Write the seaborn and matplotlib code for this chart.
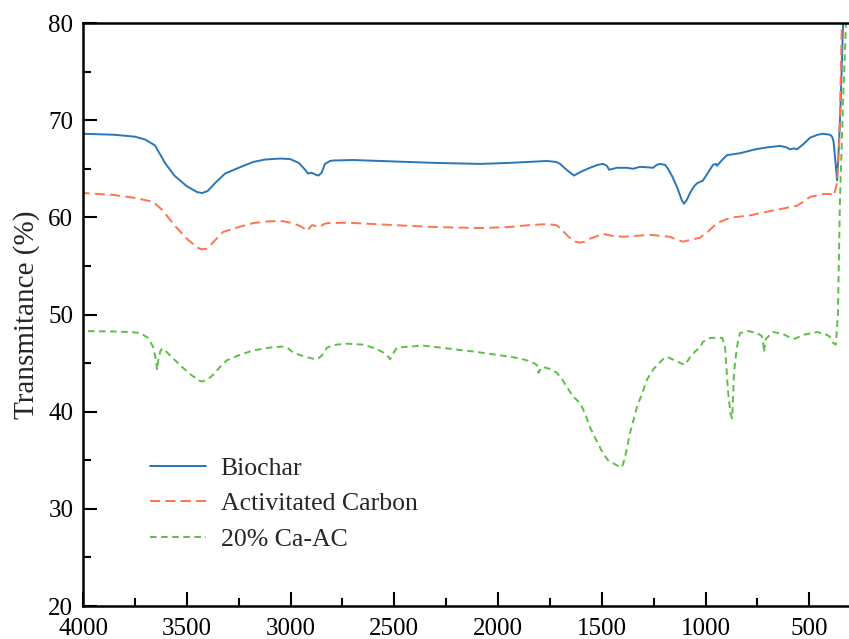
import numpy as np
import matplotlib
matplotlib.use("Agg")
import matplotlib.pyplot as plt
from matplotlib.ticker import MultipleLocator
import seaborn as sns

# ---------------------------------------------------------------------------
# FTIR spectra (wavenumber in cm-1, transmittance in %)
# ---------------------------------------------------------------------------
biochar_wn = [4000, 3850, 3749, 3700, 3653, 3605, 3560, 3500, 3450, 3427, 3400,
              3360, 3316, 3250, 3180, 3123, 3050, 3002, 2960, 2930, 2915, 2900,
              2880, 2865, 2850, 2834, 2810, 2795, 2700, 2500, 2300, 2087, 1950,
              1764, 1720, 1701, 1670, 1634, 1600, 1557, 1520, 1494, 1475, 1465,
              1445, 1427, 1380, 1349, 1316, 1280, 1253, 1235, 1219, 1195, 1181,
              1160, 1137, 1115, 1104, 1090, 1075, 1055, 1041, 1012, 985, 964,
              950, 945, 920, 897, 834, 760, 704, 640, 610, 593, 575, 559, 530,
              496, 460, 434, 400, 390, 383, 375, 366, 358, 350, 337, 325]
biochar_t = [68.6, 68.5, 68.3, 68.0, 67.4, 65.6, 64.3, 63.2, 62.6, 62.5, 62.7,
             63.6, 64.5, 65.1, 65.7, 65.95, 66.05, 66.0, 65.6, 64.9, 64.5, 64.6,
             64.4, 64.3, 64.6, 65.5, 65.8, 65.85, 65.9, 65.75, 65.6, 65.5, 65.6,
             65.8, 65.7, 65.5, 64.9, 64.3, 64.7, 65.1, 65.4, 65.5, 65.3, 64.9,
             65.0, 65.1, 65.1, 65.0, 65.2, 65.15, 65.1, 65.4, 65.5, 65.4, 65.0,
             64.2, 63.1, 61.8, 61.4, 61.8, 62.5, 63.2, 63.5, 63.8, 64.7, 65.4,
             65.5, 65.3, 65.9, 66.4, 66.6, 67.0, 67.2, 67.35, 67.2, 67.0, 67.1,
             67.0, 67.5, 68.2, 68.5, 68.6, 68.5, 68.3, 67.8, 66.0, 63.8, 67.0,
             71.0, 80.0, 88.0]

ac_wn = [4000, 3850, 3749, 3663, 3620, 3560, 3500, 3450, 3427, 3400, 3370, 3325,
         3250, 3181, 3100, 3036, 2990, 2954, 2930, 2920, 2905, 2896, 2875, 2858,
         2840, 2824, 2728, 2500, 2300, 2087, 1950, 1850, 1764, 1720, 1701, 1660,
         1630, 1605, 1580, 1557, 1494, 1450, 1398, 1330, 1267, 1220, 1171, 1140,
         1108, 1070, 1027, 990, 945, 900, 867, 786, 700, 627, 559, 530, 496, 434,
         400, 390, 383, 375, 366, 355, 343, 330]
ac_t = [62.5, 62.3, 62.0, 61.6, 60.8, 59.2, 57.8, 56.9, 56.7, 56.8, 57.5, 58.5,
        59.0, 59.4, 59.6, 59.6, 59.4, 59.1, 58.8, 58.6, 59.0, 59.2, 59.1, 59.0,
        59.3, 59.4, 59.45, 59.2, 59.0, 58.9, 59.0, 59.2, 59.3, 59.2, 58.9, 58.0,
        57.5, 57.4, 57.5, 57.8, 58.3, 58.1, 58.0, 58.1, 58.2, 58.1, 58.0, 57.7,
        57.5, 57.7, 57.9, 58.5, 59.4, 59.8, 60.0, 60.2, 60.6, 60.9, 61.2, 61.6,
        62.1, 62.4, 62.4, 62.3, 62.2, 62.8, 63.5, 68.0, 80.0, 90.0]

caac_wn = [4000, 3850, 3773, 3725, 3687, 3663, 3650, 3643, 3636, 3628, 3619,
           3600, 3533, 3480, 3440, 3427, 3400, 3373, 3340, 3306, 3250, 3181,
           3100, 3036, 3010, 2988, 2950, 2920, 2882, 2865, 2848, 2824, 2780,
           2728, 2651, 2590, 2554, 2535, 2520, 2505, 2487, 2420, 2361, 2280,
           2183, 2120, 2040, 1957, 1900, 1846, 1820, 1812, 1805, 1800, 1790,
           1783, 1750, 1716, 1690, 1667, 1640, 1605, 1580, 1557, 1520, 1494,
           1470, 1446, 1420, 1402, 1388, 1364, 1345, 1330, 1300, 1282, 1250,
           1219, 1195, 1181, 1150, 1120, 1099, 1075, 1050, 1027, 1012, 978, 920,
           906, 892, 880, 872, 866, 863, 855, 848, 834, 795, 752, 730, 723, 718,
           713, 709, 675, 627, 600, 569, 530, 463, 430, 414, 400, 386, 372, 362,
           352, 337, 323, 310]
caac_t = [48.3, 48.25, 48.2, 48.1, 47.6, 46.7, 45.5, 44.3, 45.5, 46.2, 46.5,
          46.2, 44.8, 43.8, 43.2, 43.1, 43.3, 43.8, 44.6, 45.3, 45.8, 46.3,
          46.6, 46.7, 46.5, 46.1, 45.8, 45.6, 45.4, 45.5, 45.8, 46.6, 46.9,
          47.0, 46.9, 46.5, 46.1, 45.8, 45.4, 46.0, 46.6, 46.7, 46.8, 46.6,
          46.35, 46.2, 45.95, 45.7, 45.5, 45.2, 44.9, 44.8, 44.0, 44.2, 44.6,
          44.6, 44.4, 44.0, 43.3, 42.5, 41.6, 40.9, 39.8, 38.4, 36.8, 35.7,
          35.0, 34.7, 34.4, 34.3, 35.3, 37.8, 39.3, 40.5, 42.2, 43.3, 44.4,
          45.1, 45.6, 45.6, 45.3, 45.0, 44.8, 45.6, 46.2, 46.6, 47.2, 47.6, 47.6,
          46.7, 42.2, 39.8, 39.3, 42.0, 44.0, 45.5, 46.7, 48.1, 48.3, 48.1, 47.8,
          47.4, 46.1, 47.0, 47.5, 48.2, 48.0, 47.7, 47.5, 47.9, 48.2, 48.0, 47.9,
          47.7, 47.1, 46.9, 50.0, 61.8, 72.0, 80.0, 88.0]

series_labels = ["Biochar", "Activitated Carbon", "20% Ca-AC"]
series_colors = ["#2a76b6", "#ff7352", "#5dbf45"]

sns.set_style("ticks")
plt.rcParams["font.family"] = ["Liberation Serif", "DejaVu Serif"]

fig = plt.figure(figsize=(8.49, 6.39), dpi=100)
ax = fig.add_axes([0.0978, 0.0516, 0.9055, 0.9124])

sns.lineplot(x=biochar_wn, y=biochar_t, ax=ax, color=series_colors[0],
             linewidth=1.4, label=series_labels[0])
sns.lineplot(x=ac_wn, y=ac_t, ax=ax, color=series_colors[1],
             linewidth=1.4, linestyle=(0, (5.2, 2.7)), label=series_labels[1])
sns.lineplot(x=caac_wn, y=caac_t, ax=ax, color=series_colors[2],
             linewidth=1.4, linestyle=(0, (3.4, 2.3)), label=series_labels[2])

ax.set_xlim(4000, 295)
ax.set_ylim(20, 80)
ax.xaxis.set_major_locator(MultipleLocator(500))
ax.xaxis.set_minor_locator(MultipleLocator(250))
ax.yaxis.set_major_locator(MultipleLocator(10))
ax.yaxis.set_minor_locator(MultipleLocator(5))

ax.tick_params(which="both", direction="in", width=1.5, labelsize=18,
               colors="black")
ax.tick_params(which="major", length=10)
ax.tick_params(which="minor", length=6)
ax.tick_params(axis="y", pad=7)
ax.tick_params(axis="x", pad=8.5)

for side in ["left", "bottom", "top", "right"]:
    ax.spines[side].set_visible(True)
    ax.spines[side].set_linewidth(1.8)
    ax.spines[side].set_color("black")

ax.set_xlabel("")
ax.set_ylabel("Transmitance (%)", fontsize=21, labelpad=6)

ax.legend(loc="center left", bbox_to_anchor=(0.087, 0.175), frameon=False,
          fontsize=18.5, handlelength=2.2, handletextpad=0.55,
          labelspacing=0.48, borderpad=0, borderaxespad=0)

fig.savefig("out.png", dpi=100)
